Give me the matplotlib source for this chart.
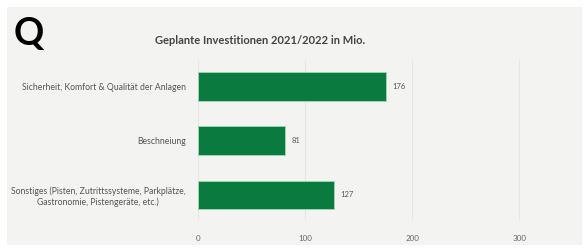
import matplotlib
matplotlib.use('Agg')
import matplotlib.pyplot as plt
from matplotlib.patches import Rectangle

# Daten
kategorien = ['Sicherheit, Komfort & Qualität der Anlagen',
              'Beschneiung',
              'Sonstiges (Pisten, Zutrittssysteme, Parkplätze,\nGastronomie, Pistengeräte, etc.)']
werte = [176, 81, 127]
ticks = [0, 100, 200, 300]

gruen = '#0b7a3e'
hintergrund = '#f3f3f1'

plt.rcParams['font.family'] = ['Lato', 'DejaVu Sans']

fig = plt.figure(figsize=(5.85, 2.5), dpi=100)
fig.patch.set_facecolor('white')
# graues Panel
fig.patches.append(Rectangle((7 / 585, 5 / 250), 575 / 585, 238 / 250,
                             transform=fig.transFigure, facecolor=hintergrund,
                             edgecolor='none', zorder=-1))

ax = fig.add_axes([198 / 585, 30 / 250, 364 / 585, 160 / 250])
ax.set_facecolor('none')
ax.set_zorder(2)

y = list(range(len(kategorien)))
ax.barh(y, werte, height=0.53, color=gruen, edgecolor='#9fd8b4', linewidth=0.6, zorder=3)
for yi, w in zip(y, werte):
    ax.text(w + 6, yi, str(w), va='center', ha='left', fontsize=5.5, color='#555555')

ax.set_xlim(0, 340)
ax.set_ylim(2.46, -0.48)
ax.set_yticks(y)
ax.set_yticklabels(kategorien, fontsize=6.2, color='#555555', ha='right',
                   multialignment='center')
ax.set_xticks(ticks)
ax.set_xticklabels([str(t) for t in ticks], fontsize=5.8, color='#666666')
ax.tick_params(axis='both', length=0)
ax.tick_params(axis='x', pad=11)
ax.tick_params(axis='y', pad=9)
ax.grid(axis='x', color='#e6e6e4', linewidth=0.8, zorder=0)
for s in ax.spines.values():
    s.set_visible(False)

fig.text(260 / 585, 1 - 40 / 250, 'Geplante Investitionen 2021/2022 in Mio.',
         ha='center', va='center', fontsize=8, fontweight='bold', color='#444444')
fig.text(14 / 585, 1 - 34 / 250, 'Q', ha='left', va='center', fontsize=27,
         fontweight='bold', color='black')

fig.savefig('out.png', dpi=100)
